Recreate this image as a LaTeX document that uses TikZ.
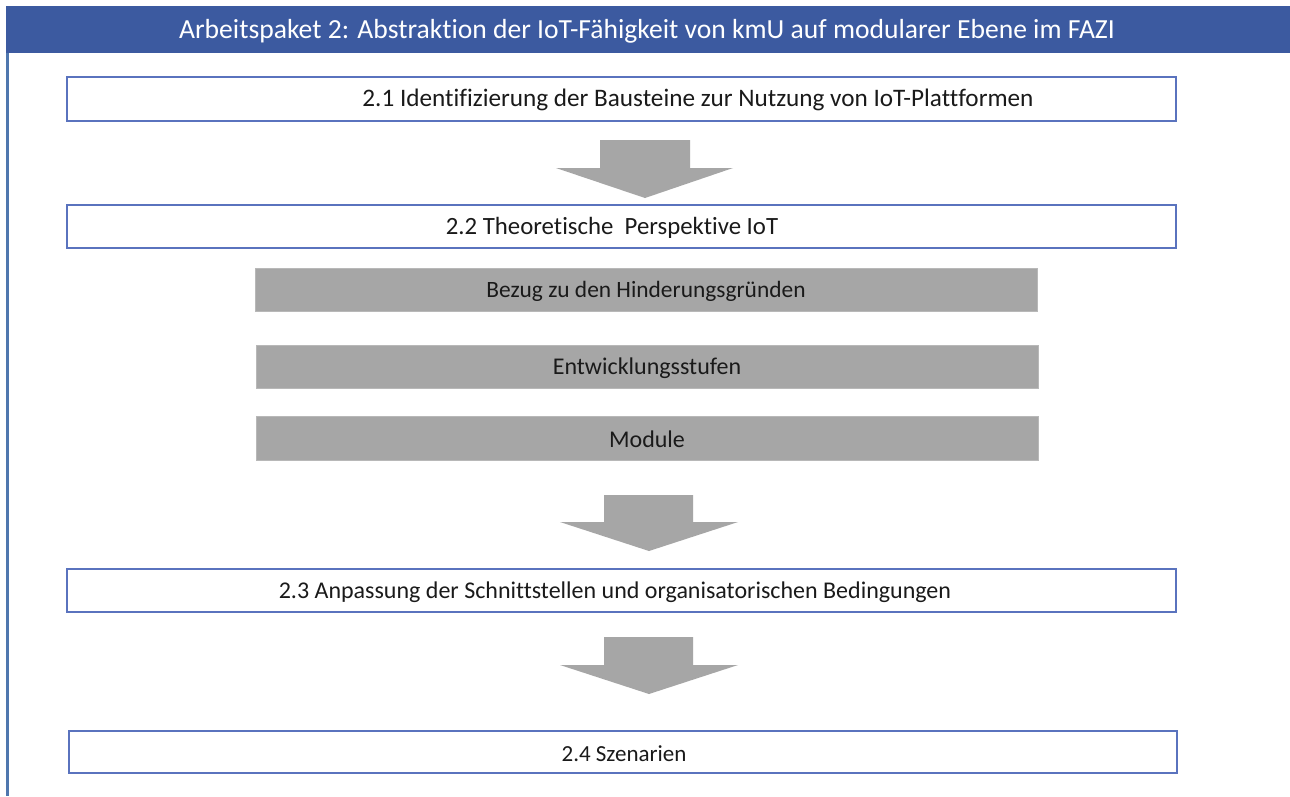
\documentclass[tikz,border=0pt]{standalone}
\usepackage{fontspec}
\setmainfont{Carlito}[Ligatures=NoCommon]
\definecolor{headblue}{HTML}{3C5AA0}
\definecolor{sideblue}{HTML}{4F77AE}
\definecolor{boxblue}{HTML}{5A73BE}
\definecolor{bargray}{HTML}{A6A6A6}
\definecolor{txt}{HTML}{1A1A1A}
\newcommand{\fsz}[1]{\fontsize{#1}{#1}\selectfont}
\tikzset{
  stage/.style={draw=boxblue, line width=1.3pt, fill=white},
  bar/.style={fill=bargray, draw=bargray!80!white, line width=0.6pt},
  label/.style={font=\fsz{24}, text=txt, inner sep=0pt, anchor=center},
  blockarrow/.style={fill=bargray, draw=none},
}
\begin{document}
\begin{tikzpicture}[x=1pt, y=-1pt]
\useasboundingbox (0,0) rectangle (1290,796);
\fill[white] (0,0) rectangle (1290,796);

% header and left rule
\fill[headblue] (6,6) rectangle (1290,53);
\node[label, text=white, font=\fsz{27.6}] (title) at (647,31)
  {Arbeitspaket 2: Abstraktion der IoT-Fähigkeit von kmU auf modularer Ebene im FAZI};
\fill[sideblue] (6,53) rectangle (8.5,796);

% stage boxes
\draw[stage] (67,77) rectangle (1176,121);
\node[label, font=\fsz{25.2}] (s1) at (698,100) {2.1 Identifizierung der Bausteine zur Nutzung von IoT-Plattformen};

\draw[stage] (67,205) rectangle (1176,248);
\node[label, font=\fsz{24.8}] (s2) at (612,228) {2.2 Theoretische\ \ Perspektive IoT};

\draw[stage] (67,569) rectangle (1176,612);
\node[label] (s3) at (615,592) {2.3 Anpassung der Schnittstellen und organisatorischen Bedingungen};

\draw[stage] (69,731) rectangle (1177,773);
\node[label, font=\fsz{23}] (s4) at (624,753.5) {2.4 Szenarien};

% grey sub-steps
\draw[bar] (255,268) rectangle (1037,311);
\node[label, font=\fsz{23.4}] (b1) at (646,291) {Bezug zu den Hinderungsgründen};
\draw[bar] (256,345) rectangle (1038,388);
\node[label] (b2) at (647,368) {Entwicklungsstufen};
\draw[bar] (256,416) rectangle (1038,460);
\node[label] (b3) at (647,439.5) {Module};

% block arrows between the stages
\fill[blockarrow] (600,140) -- (690,140) -- (690,168) -- (733,168) -- (645,198)
  -- (556,168) -- (600,168) -- cycle;
\fill[blockarrow] (604,495) -- (693,495) -- (693,522) -- (738,522) -- (649,551)
  -- (560,522) -- (604,522) -- cycle;
\fill[blockarrow] (604,637) -- (693,637) -- (693,665) -- (738,665) -- (649,694)
  -- (560,665) -- (604,665) -- cycle;
\end{tikzpicture}
\end{document}
